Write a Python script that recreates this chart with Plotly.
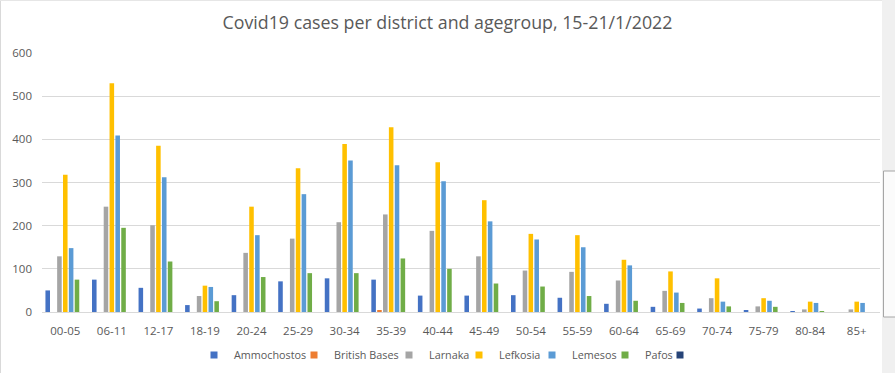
import plotly.graph_objects as go

categories = ["00-05", "06-11", "12-17", "18-19", "20-24", "25-29", "30-34", "35-39", "40-44",
              "45-49", "50-54", "55-59", "60-64", "65-69", "70-74", "75-79", "80-84", "85+"]

ammochostos = [50, 75, 56, 16, 39, 71, 78, 75, 38, 38, 39, 33, 19, 12, 8, 3, 2, 0]
british_bases = [0, 0, 0, 0, 0, 0, 0, 3, 0, 0, 0, 0, 0, 0, 0, 0, 0, 0]
larnaka = [129, 244, 201, 37, 137, 170, 208, 226, 188, 129, 96, 93, 73, 49, 32, 13, 6, 6]
lefkosia = [318, 530, 385, 61, 244, 333, 389, 428, 347, 259, 181, 178, 121, 94, 78, 32, 24, 24]
lemesos = [148, 409, 312, 58, 178, 273, 351, 340, 303, 210, 168, 150, 108, 45, 24, 26, 21, 21]
pafos = [75, 195, 117, 25, 81, 90, 90, 124, 100, 66, 59, 37, 26, 21, 13, 12, 2, 0]
unnamed = [0] * 18

series_names = ["Ammochostos", "British Bases", "Larnaka", "Lefkosia", "Lemesos", "Pafos", " "]
series_values = [ammochostos, british_bases, larnaka, lefkosia, lemesos, pafos, unnamed]
series_colors = ["#4472C4", "#ED7D31", "#A5A5A5", "#FFC000", "#5B9BD5", "#70AD47", "#264478"]

W, H = 895, 373
ML, MR, MT, MB = 42, 15, 53, 61
PW, PH = W - ML - MR, H - MT - MB

def px_x(p):
    return (p - ML) / PW

def px_y(p):
    return (H - MB - p) / PH

# pixel x of each legend entry's text start (layout positions)
legend_text_x = [234, 334, 429, 499, 572, 645, 700]

font_color = "#595959"
fig = go.Figure()
legend_layouts = {}
for i, (name, vals, col) in enumerate(zip(series_names, series_values, series_colors)):
    lname = "legend" if i == 0 else f"legend{i + 1}"
    fig.add_trace(go.Bar(x=categories, y=vals, name=name, marker_color=col,
                         marker_line_width=0, legendgroup=name, showlegend=False))
    # legend entry with a small square key, as in the original
    fig.add_trace(go.Scatter(x=[None], y=[None], mode="markers", name=name,
                             marker=dict(symbol="square", size=7, color=col),
                             legendgroup=name, legend=lname, showlegend=True))
    legend_layouts[lname] = dict(
        orientation="h", x=px_x(legend_text_x[i] - 40), xanchor="left",
        y=px_y(355), yanchor="middle", font=dict(size=10.8, color=font_color),
        itemwidth=30, bgcolor="rgba(0,0,0,0)", borderwidth=0)

fig.update_layout(
    width=W, height=H,
    margin=dict(l=ML, r=MR, t=MT, b=MB, autoexpand=False),
    paper_bgcolor="white", plot_bgcolor="white",
    barmode="group", bargap=0.12, bargroupgap=0.22,
    font=dict(family="Open Sans", size=12, color=font_color),
    title=dict(text="Covid19 cases per district and agegroup, 15-21/1/2022",
               x=px_x(447.5), xref="paper", xanchor="center", y=1 - 23 / H, yanchor="middle",
               font=dict(family="Open Sans", size=17.8, color=font_color)),
    showlegend=True,
    **legend_layouts,
)
fig.update_xaxes(type="category", showgrid=False, showline=True, linecolor="#d9d9d9",
                 linewidth=1, ticks="", ticklabelstandoff=8,
                 tickfont=dict(size=11.5, color=font_color), fixedrange=True)
fig.update_yaxes(range=[0, 600], dtick=100, showgrid=True, gridcolor="#d9d9d9",
                 gridwidth=1, zeroline=False, showline=False, ticks="",
                 ticklabelstandoff=9,
                 tickfont=dict(size=11.5, color=font_color), fixedrange=True)

shapes = [
    # outer chart border (left / top)
    dict(type="line", xref="paper", yref="paper", x0=px_x(0.5), x1=px_x(0.5),
         y0=px_y(0), y1=px_y(H), line=dict(color="#d9d9d9", width=1)),
    dict(type="line", xref="paper", yref="paper", x0=px_x(0), x1=px_x(W),
         y0=px_y(0.5), y1=px_y(0.5), line=dict(color="#e6e6e6", width=1)),
    # gray panel on the right edge
    dict(type="rect", xref="paper", yref="paper", x0=px_x(882), x1=px_x(W + 2),
         y0=px_y(H + 2), y1=px_y(-2), fillcolor="#f0f0f0", line=dict(width=0), layer="above"),
    dict(type="rect", xref="paper", yref="paper", x0=px_x(883.5), x1=px_x(W + 5),
         y0=px_y(317), y1=px_y(171), fillcolor="#fbfbfb",
         line=dict(color="#a6a6a6", width=1), layer="above"),
]
fig.update_layout(shapes=shapes)

fig.write_html("out.html", config={"displayModeBar": False},
               post_script="document.body.style.margin='0px';document.body.style.overflow='hidden';")
